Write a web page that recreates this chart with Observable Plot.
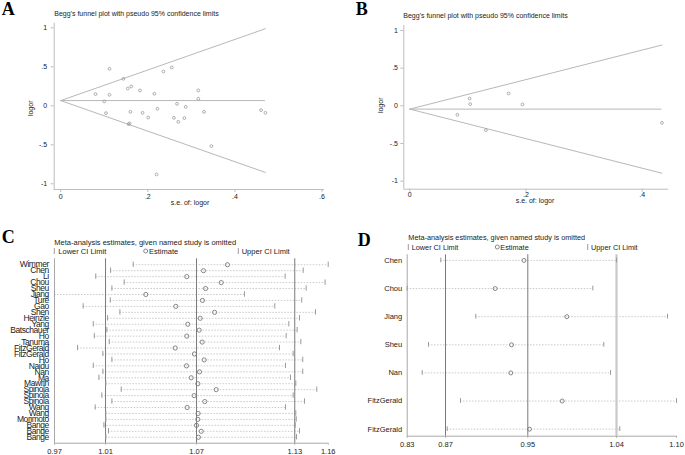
<!DOCTYPE html>
<html><head><meta charset="utf-8">
<script src="https://cdn.jsdelivr.net/npm/d3@7"></script>
<script src="https://cdn.jsdelivr.net/npm/@observablehq/plot@0.6"></script>
<style>
body{margin:0;background:#fff}
#root{position:relative;width:685px;height:455px;overflow:hidden;background:#fff;font-family:"Liberation Sans",Arial,sans-serif}
</style></head><body><div id="root"></div>
<script>
// ---------- Panel A: Begg's funnel (30 studies) ----------
const seA = [0.112,0.080,0.100,0.112,0.104,0.144,0.154,0.162,0.160,0.158,0.156,0.182,0.188,0.201,0.215,0.222,0.220,0.236,0.255,0.260,0.267,0.270,0.284,0.287,0.316,0.316,0.329,0.346,0.460,0.470];
const logorA = [0.474,0.150,0.056,0.141,-0.094,0.346,0.222,0.248,-0.077,-0.226,-0.235,0.197,-0.090,-0.150,0.154,-0.038,-0.880,0.440,0.491,-0.154,0.026,-0.205,-0.158,-0.013,0.197,0.090,-0.077,-0.517,-0.056,-0.090];
const pooledA = 0.067, seMaxA = 0.470;
// ---------- Panel B: Begg's funnel (7 studies) ----------
const seB = [0.103,0.104,0.082,0.131,0.170,0.194,0.434];
const logorB = [0.097,0.022,-0.119,-0.323,0.164,0.018,-0.226];
const pooledB = -0.044, seMaxB = 0.434;
const funnelYTicks = [-1,-0.5,0,0.5,1];
const funnelYLabels = ["-1","-.5","0",".5","1"];
const funnelXTicksA = [0,0.2,0.4,0.6];
const funnelXLabelsA = ["0",".2",".4",".6"];
const funnelXTicksB = [0,0.2,0.4];
const funnelXLabelsB = ["0",".2",".4"];
// ---------- Panel C: influence analysis (30 studies) ----------
const namesC = ["Wimmer","Chen","Li","Chou","Sheu","Jiang","Turé","Gao","Shen","Heinzle","Yang","Batschauer","Ho","Tanuma","FitzGerald","FitzGerald","Ho","Naidu","Nan","Ma","Mawrin","Spinola","Spinola","Spinola","Wang","Wang","Morimoto","Bange","Bange","Bange"];
const lowerC = [1.0247,1.0094,0.9994,1.0186,1.0103,0.9715,1.0092,0.9909,1.0157,1.0074,0.9977,1.0069,0.9984,1.0085,0.9871,1.0042,1.0103,0.9977,1.0042,1.0015,1.0062,1.0166,1.0035,1.0103,0.9990,1.0062,1.0062,1.0049,1.0080,1.0062];
const estC = [1.0884,1.0722,1.0609,1.0842,1.0736,1.0332,1.0715,1.0535,1.0797,1.0700,1.0616,1.0693,1.0609,1.0713,1.0531,1.0661,1.0727,1.0607,1.0695,1.0639,1.0684,1.0808,1.0659,1.0731,1.0612,1.0686,1.0684,1.0675,1.0707,1.0688];
const upperC = [1.1565,1.1396,1.1274,1.1544,1.1416,1.0999,1.1386,1.1204,1.1479,1.1371,1.1299,1.1355,1.1281,1.1380,1.1236,1.1328,1.1393,1.1276,1.1393,1.1310,1.1346,1.1488,1.1328,1.1405,1.1276,1.1346,1.1349,1.1342,1.1371,1.1351];
const tickValsC = [0.9715,1.006,1.0675,1.1339,1.1565];
const tickLabelsC = ["0.97","1.01","1.07","1.13","1.16"];
const refC = [1.006,1.0675,1.1339];
// ---------- Panel D: influence analysis (7 studies) ----------
const namesD = ["Chen","Chou","Jiang","Sheu","Nan","FitzGerald","FitzGerald"];
const lowerD = [0.8633,0.8297,0.8983,0.8510,0.8447,0.8830,0.8697];
const estD = [0.9465,0.9177,0.9893,0.9340,0.9333,0.9847,0.9520];
const upperD = [1.0390,1.0153,1.0900,1.0263,1.0330,1.0990,1.0423];
const tickValsD = [0.8297,0.868,0.9503,1.039,1.099];
const tickLabelsD = ["0.83","0.87","0.95","1.04","1.10"];
const refD = [0.868,0.9503,1.039];

const W = 685, H = 455;
const FONT = "'Liberation Sans', Arial, sans-serif";
const root = document.getElementById("root");
const baseStyle = {background:"transparent", position:"absolute", left:"0px", top:"0px", overflow:"visible", fontFamily:FONT, color:"#222", maxWidth:"none"};
const lab = (vals, labels) => { const m = new Map(vals.map((v,i)=>[v,labels[i]])); return d => m.get(d); };

function funnel(se, lo, pooled, seMax, xDom, yDom, m, xt, xl, xPad, yPad) {
  const idx = d3.range(se.length);
  const upper = [{s:0,v:pooled},{s:seMax,v:pooled+1.96*seMax}];
  const lower = [{s:0,v:pooled},{s:seMax,v:pooled-1.96*seMax}];
  return Plot.plot({
    width: W, height: H, ...m,
    style: baseStyle,
    x: {domain: xDom}, y: {domain: yDom},
    marks: [
      Plot.ruleX([xDom[0]], {stroke:"#bdbdbd", strokeWidth:1}),
      Plot.ruleY([yDom[0]], {stroke:"#bdbdbd", strokeWidth:1}),
      Plot.line(upper, {x:"s", y:"v", stroke:"#b8b8b8", strokeWidth:1}),
      Plot.line(lower, {x:"s", y:"v", stroke:"#b8b8b8", strokeWidth:1}),
      Plot.ruleY([pooled], {x1:0, x2:seMax, stroke:"#b8b8b8", strokeWidth:1}),
      Plot.dot(idx, {x: i=>se[i], y: i=>lo[i], r:1.4, stroke:"#9a9a9a", fill:"none", strokeWidth:0.8}),
      Plot.axisX(xt, {tickFormat: lab(xt, xl), tickSize:3, tickPadding:xPad, stroke:"#bdbdbd", fill:"#222", fontSize:7, label:null}),
      Plot.axisY(funnelYTicks, {tickFormat: lab(funnelYTicks, funnelYLabels), tickSize:3, tickPadding:yPad, stroke:"#bdbdbd", fill:"#222", fontSize:7, label:null})
    ]
  });
}

const plotA = funnel(seA, logorA, pooledA, seMaxA, [-0.0149,0.6057], [-1.073,1.059],
  {marginLeft:53.7, marginRight:W-324, marginTop:22.7, marginBottom:H-189}, funnelXTicksA, funnelXLabelsA, 1.5, 4);
const plotB = funnel(seB, logorB, pooledB, seMaxB, [-0.0103,0.4458], [-1.107,1.066],
  {marginLeft:403.3, marginRight:W-668.3, marginTop:25, marginBottom:H-188.7}, funnelXTicksB, funnelXLabelsB, 0.3, 2.8);

function influence(names, lo, est, up, xDom, yDom, m, tv, tl, refs, refStroke, refWidth, tickHalf, r, yFont, xPad) {
  const idx = d3.range(names.length);
  return Plot.plot({
    width: W, height: H, ...m,
    style: baseStyle,
    x: {domain: xDom}, y: {domain: yDom, reverse: true},
    marks: [
      Plot.ruleX([xDom[0]], {stroke:"#a8a8a8", strokeWidth:1}),
      Plot.ruleY([yDom[1]], {stroke:"#a8a8a8", strokeWidth:1}),
      Plot.ruleY(idx, {y: i=>i, x1: i=>lo[i], x2: i=>up[i], stroke:"#bdbdbd", strokeWidth:0.8, strokeDasharray:"1.5,1.5"}),
      Plot.ruleX(refs, {stroke:(d,i)=>refStroke[i], strokeWidth:(d,i)=>refWidth[i]}),
      Plot.ruleX(idx, {x: i=>lo[i], y1: i=>i-tickHalf, y2: i=>i+tickHalf, stroke:"#9a9a9a", strokeWidth:1}),
      Plot.ruleX(idx, {x: i=>up[i], y1: i=>i-tickHalf, y2: i=>i+tickHalf, stroke:"#9a9a9a", strokeWidth:1}),
      Plot.dot(idx, {x: i=>est[i], y: i=>i, r, stroke:"#7a7a7a", fill:"none", strokeWidth:0.9}),
      Plot.axisX(tv, {tickFormat: lab(tv, tl), tickSize:2, tickPadding:xPad, stroke:"#a8a8a8", fill:"#222", fontSize:7.5, label:null}),
      Plot.axisY(idx, {tickFormat: i=>names[i], tickSize:0, tickPadding: m.padY, fill:"#222", fontSize:yFont, label:null})
    ]
  });
}

const plotC = influence(namesC, lowerC, estC, upperC, [0.9715,1.1565], [-1,30],
  {marginLeft:54, marginRight:W-327.7, marginTop:258.3, marginBottom:H-442.7, padY:5.7},
  tickValsC, tickLabelsC, refC, ["#7a7a7a","#7a7a7a","#7a7a7a"], [1,1,1], 0.45, 2.1, 8.5, 3.2);
const plotD = influence(namesD, lowerD, estD, upperD, [0.8297,1.099], [-0.2,6.25],
  {marginLeft:406.7, marginRight:W-676, marginTop:254.3, marginBottom:H-435.7, padY:5},
  tickValsD, tickLabelsD, refD, ["#7a7a7a","#7a7a7a","#c8c8c8"], [1,1,2.2], 0.085, 2, 7.5, 3.7);

for (const p of [plotA, plotB, plotC, plotD]) root.appendChild(p);
d3.select(plotC).selectAll('g[aria-label="y-axis tick label"] text').style("letter-spacing","-0.45px");

// ---------- overlay: panel letters, titles, axis titles, legends ----------
const ov = d3.select(root).append("svg").attr("width",W).attr("height",H)
  .style("position","absolute").style("left","0px").style("top","0px").style("font-family",FONT);
const letters = [["A",1.7,15.3],["B",355.7,15],["C",1.7,243],["D",357.7,245.7]];
ov.selectAll("text.letter").data(letters).join("text").attr("class","letter")
  .attr("x",d=>d[1]).attr("y",d=>d[2]).text(d=>d[0])
  .style("font-family","'Liberation Serif','Times New Roman',serif").style("font-weight","bold").style("font-size","18px").attr("fill","#000");
const funnelTitle = "Begg's funnel plot with pseudo 95% confidence limits";
const metaTitle = "Meta-analysis estimates, given named study is omitted";
const texts = [
  [funnelTitle, 54.3, 15.8, 7, "start", 0],
  [funnelTitle, 403.3, 18.2, 7, "start", 0],
  ["s.e. of: logor", 190, 204.8, 7, "middle", 0],
  ["s.e. of: logor", 535, 202.5, 7, "middle", 0],
  ["logor", 32.5, 108.3, 7, "middle", -90],
  ["logor", 382.5, 105.3, 7, "middle", -90],
  [metaTitle, 54.3, 244.5, 7.5, "start", 0],
  [metaTitle, 408.3, 240.2, 7.3, "start", 0],
  ["Lower CI Limit", 58.3, 253.7, 7.5, "start", 0],
  ["Estimate", 149, 253.7, 7.5, "start", 0],
  ["Upper CI Limit", 241.7, 253.7, 7.5, "start", 0],
  ["Lower CI Limit", 411.7, 249.7, 7.3, "start", 0],
  ["Estimate", 500.3, 249.7, 7.3, "start", 0],
  ["Upper CI Limit", 591, 249.7, 7.3, "start", 0]
];
ov.selectAll("text.t").data(texts).join("text").attr("class","t")
  .attr("transform",d=>`translate(${d[1]},${d[2]}) rotate(${d[5]})`)
  .attr("text-anchor",d=>d[4]).style("font-size",d=>d[3]+"px").attr("fill","#222").text(d=>d[0]);
const bars = [[54.3,251],[238.3,251],[408.3,247],[587.7,247]];
ov.selectAll("line.lg").data(bars).join("line").attr("class","lg")
  .attr("x1",d=>d[0]).attr("x2",d=>d[0]).attr("y1",d=>d[1]-3).attr("y2",d=>d[1]+3)
  .attr("stroke","#9a9a9a").attr("stroke-width",1);
const circs = [[145.7,251],[497.3,247]];
ov.selectAll("circle.lg").data(circs).join("circle").attr("class","lg")
  .attr("cx",d=>d[0]).attr("cy",d=>d[1]).attr("r",2).attr("fill","none").attr("stroke","#7a7a7a").attr("stroke-width",0.9);
</script></body></html>
